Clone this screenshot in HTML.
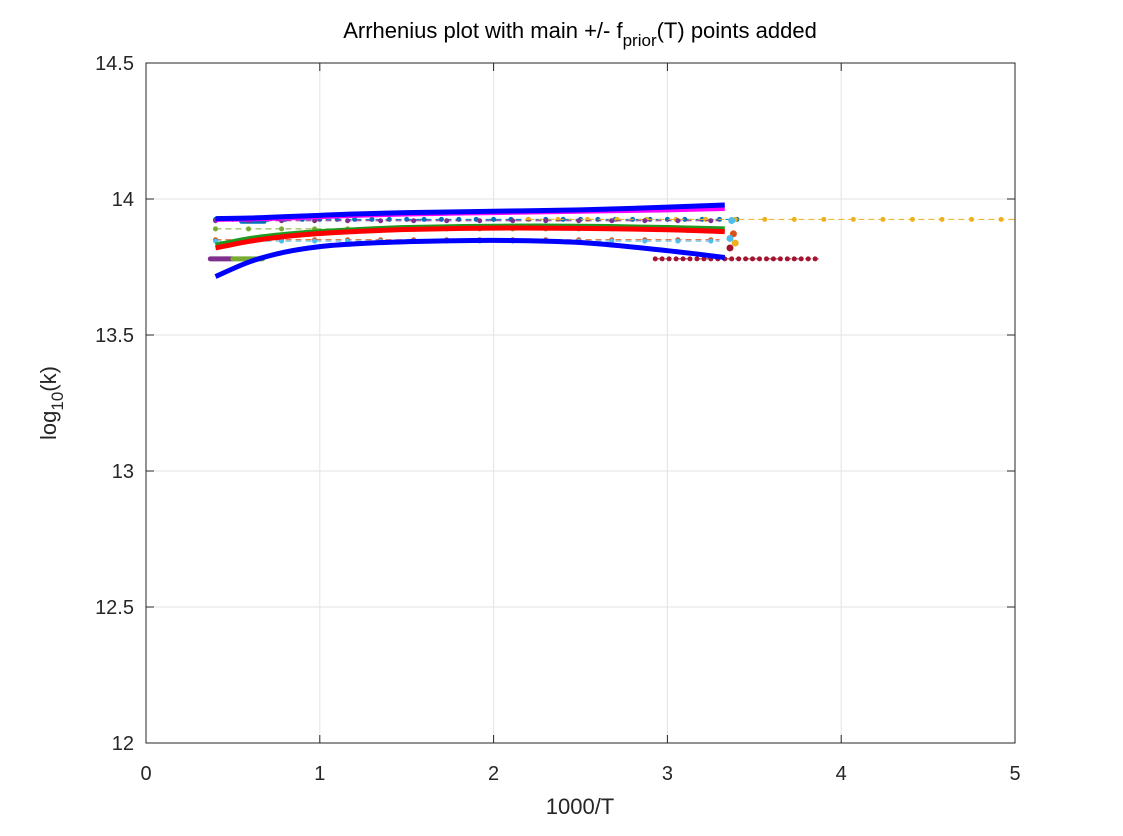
<!DOCTYPE html>
<html><head><meta charset="utf-8"><style>
body{margin:0;background:#fff;}
svg{display:block;font-family:"Liberation Sans",sans-serif;}
</style></head><body>
<svg id="chart" width="1123" height="836">
<rect width="1123" height="836" fill="#fff"/>
<g id="grid"></g>
<g id="plot"></g>
<rect x="146" y="63" width="869" height="680" fill="none" stroke="#262626" stroke-width="1"/>
<g id="ticks"></g>
<text x="580" y="38" font-size="22" text-anchor="middle" fill="#000">Arrhenius plot with main +/- f<tspan font-size="17" dy="8">prior</tspan><tspan dy="-8">(T) points added</tspan></text>
<text x="580" y="814" font-size="22" text-anchor="middle" fill="#262626">1000/T</text>
<text transform="translate(56,403) rotate(-90)" font-size="22" text-anchor="middle" fill="#262626">log<tspan font-size="17" dy="7">10</tspan><tspan dy="-7">(k)</tspan></text>
</svg>
<script>
const xTicks=[0,1,2,3,4,5];
const yTicks=[12,12.5,13,13.5,14,14.5];
const yTickLabels=["12","12.5","13","13.5","14","14.5"];
const flatStart=[0.4,2.2,0.4,0.4,0.4,0.4,2.93];
const flatEnd=[3.4,5.0,3.3,3.3,3.3,3.3,3.87];
const flatStep=[0.1,0.17,0.19,0.19,0.19,0.19,0.04];
const flatVal=[13.925,13.925,13.92,13.89,13.85,13.845,13.78];
const flatColor=["#0072BD","#EDB120","#7E2F8E","#77AC30","#D95319","#4DBEEE","#A2142F"];
const curveX=[0.4,0.6,0.8,1.0,1.2,1.5,2.0,2.5,3.0,3.33];
const blueTop=[13.928,13.93,13.935,13.94,13.945,13.95,13.955,13.96,13.97,13.978];
const magenta=[13.925,13.927,13.93,13.935,13.94,13.945,13.95,13.955,13.96,13.965];
const greenC=[13.83,13.855,13.87,13.88,13.887,13.895,13.9,13.9,13.895,13.89];
const redC=[13.82,13.845,13.862,13.873,13.88,13.888,13.893,13.892,13.887,13.88];
const blueBot=[13.715,13.77,13.805,13.825,13.835,13.843,13.848,13.84,13.81,13.785];
const endX=[3.37,3.38,3.39,3.36,3.36];
const endY=[13.921,13.872,13.838,13.82,13.855];
const endColor=["#4DBEEE","#D95319","#EDB120","#A2142F","#4DBEEE"];

const NS="http://www.w3.org/2000/svg";
const sx=v=>146+v*173.8, sy=v=>63+(14.5-v)*272;
function mk(tag,attrs,parent){const e=document.createElementNS(NS,tag);for(const k in attrs)e.setAttribute(k,attrs[k]);parent.appendChild(e);return e;}
const grid=document.getElementById('grid'),plot=document.getElementById('plot'),ticks=document.getElementById('ticks');
xTicks.forEach(t=>{
 const l=mk('line',{x1:sx(t),x2:sx(t),y1:63,y2:743,stroke:'#e3e3e3'},grid);
 
 
 const tk=mk('line',{x1:sx(t),x2:sx(t),y1:743,y2:735,stroke:'#262626'},ticks);
 
 
 const tk2=mk('line',{x1:sx(t),x2:sx(t),y1:63,y2:71,stroke:'#262626'},ticks);
 
 
 const tx=mk('text',{x:sx(t),y:780,'font-size':20,'text-anchor':'middle',fill:'#262626'},ticks);
 tx.textContent=String(t);
 
 
});
yTicks.forEach((t,i)=>{
 const l=mk('line',{x1:146,x2:1015,y1:sy(t),y2:sy(t),stroke:'#e3e3e3'},grid);
 
 
 const tk=mk('line',{x1:146,x2:154,y1:sy(t),y2:sy(t),stroke:'#262626'},ticks);
 
 
 const tk2=mk('line',{x1:1007,x2:1015,y1:sy(t),y2:sy(t),stroke:'#262626'},ticks);
 
 
 const tx=mk('text',{x:134,y:sy(t)+7,'font-size':20,'text-anchor':'end',fill:'#262626'},ticks);
 tx.textContent=yTickLabels[i];
 
 
});
[[0.37,0.5,13.78,'#7E2F8E'],[0.5,0.67,13.78,'#77AC30'],[0.55,0.68,13.918,'#0072BD']].forEach(s=>{
 const l=mk('line',{x1:sx(s[0]),x2:sx(s[1]),y1:sy(s[2]),y2:sy(s[2]),stroke:s[3],'stroke-width':5,'stroke-linecap':'round'},plot);
 
 
});
flatVal.forEach((v,i)=>{
 const g=mk('g',{},plot);
 
 
 mk('line',{x1:sx(flatStart[i]),x2:sx(flatEnd[i]),y1:sy(v),y2:sy(v),stroke:flatColor[i],'stroke-width':1,'stroke-dasharray':'6 4'},g);
 for(let x=flatStart[i];x<=flatEnd[i]+1e-6;x+=flatStep[i]){
  const c=mk('circle',{cx:sx(x),cy:sy(v),r:2.5,fill:flatColor[i]},g);
  
  
 }
});
function smooth(xs,ys){
 const P=xs.map((x,i)=>[sx(x),sy(ys[i])]);
 let d='M'+P[0][0]+' '+P[0][1];
 for(let i=0;i<P.length-1;i++){
  const p0=P[Math.max(0,i-1)],p1=P[i],p2=P[i+1],p3=P[Math.min(P.length-1,i+2)];
  const c1=[p1[0]+(p2[0]-p0[0])/6,p1[1]+(p2[1]-p0[1])/6];
  const c2=[p2[0]-(p3[0]-p1[0])/6,p2[1]-(p3[1]-p1[1])/6];
  d+=' C'+c1[0]+' '+c1[1]+' '+c2[0]+' '+c2[1]+' '+p2[0]+' '+p2[1];
 }
 return d;
}
[[greenC,'#1f9a1f'],[redC,'#ff0000'],[magenta,'#ff00ff'],[blueTop,'#0000ff'],[blueBot,'#0000ff']].forEach((c,j)=>{
 const p=mk('path',{d:smooth(curveX,c[0]),fill:'none',stroke:c[1],'stroke-width':5},plot);
 
 
});
endX.forEach((x,i)=>{
 const c=mk('circle',{cx:sx(x),cy:sy(endY[i]),r:3.5,fill:endColor[i]},plot);
 
 
});
</script>
</body></html>
